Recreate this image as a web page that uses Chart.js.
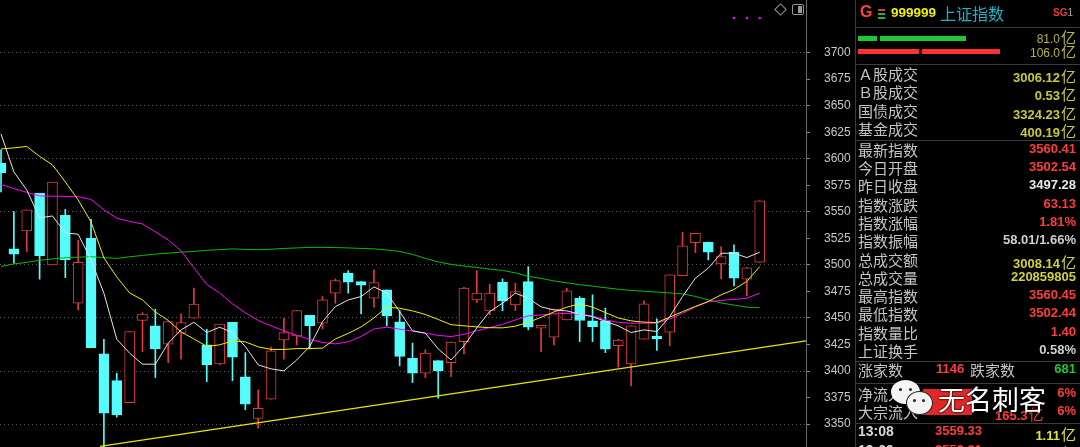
<!DOCTYPE html>
<html>
<head>
<meta charset="utf-8">
<script src="https://cdn.jsdelivr.net/npm/chart.js@4.4.1/dist/chart.umd.min.js"></script>
<style>
html, body { margin: 0; padding: 0; background: #000; width: 1080px; height: 447px; overflow: hidden; font-family: "Noto Sans CJK SC", "DejaVu Sans", sans-serif; }
#wrap { position: absolute; left: 0; top: 0; width: 855px; height: 447px; }
#panel { position: absolute; left: 855px; top: 0; width: 224px; height: 447px; border-left: 1px solid #3c3c3c; overflow: hidden; }
.hl { position: absolute; left: 0; width: 224px; height: 1px; background: #3c3c3c; }
.row { position: absolute; left: 0; width: 220px; height: 18px; line-height: 18px; white-space: nowrap; }
.lb { position: absolute; left: 2px; top: 0; color: #c4c4c4; font-size: 15px; }
.vl { position: absolute; right: 0; top: 0; font: bold 13px "Liberation Sans", Arial, sans-serif; }
.yi { font: 15px "Noto Sans CJK SC", sans-serif; margin-left: 1px; }
.abs { position: absolute; }
.icon { position: absolute; }
</style>
</head>
<body>
<div id="wrap"><canvas id="c" width="855" height="447"></canvas></div>

<!-- small icons over the chart, top right -->
<div class="icon" style="left:776px;top:5px;width:7px;height:7px;border:1px solid #9a9a9a;transform:rotate(45deg)"></div>
<div class="icon" style="left:792px;top:4px;width:10px;height:9px;border:1px solid #9a9a9a;border-radius:2px">
  <div style="position:absolute;right:1px;top:1px;width:4px;height:7px;background:#9a9a9a"></div>
</div>

<div id="panel">
  <div class="abs" style="left:4px;top:3px;font:bold 16px 'Liberation Sans',Arial;color:#ff4040">G</div>
  <div class="abs" style="left:22px;top:9px;width:7px;height:2px;background:#c84040"></div>
  <div class="abs" style="left:22px;top:13px;width:7px;height:2px;background:#30b030"></div>
  <div class="abs" style="left:22px;top:17px;width:7px;height:2px;background:#30b030"></div>
  <div class="abs" style="left:35px;top:5px;font:bold 13.5px 'Liberation Sans',Arial;color:#f0f000">999999</div>
  <div class="abs" style="left:84px;top:1px;font-size:16px;color:#1ab4c8">上证指数</div>
  <div class="abs" style="left:197px;top:7px;font:bold 10px 'Liberation Sans',Arial;color:#e83c3c">SG<span style="color:#a0a0a0;font-weight:normal">1</span></div>

  <div class="hl" style="top:27px"></div>
  <div class="abs" style="left:2px;top:36px;width:19px;height:5px;background:#1ec832"></div>
  <div class="abs" style="left:24px;top:36px;width:86px;height:5px;background:#1ec832"></div>
  <div class="abs" style="left:2px;top:49px;width:61px;height:5px;background:#ff3030"></div>
  <div class="abs" style="left:66px;top:49px;width:78px;height:5px;background:#ff3030"></div>
  <div class="row" style="top:26px"><span class="vl" style="font-weight:normal;font-size:12px;color:#b4b43c">81.0<span class="yi">亿</span></span></div>
  <div class="row" style="top:40px"><span class="vl" style="font-weight:normal;font-size:12px;color:#b4b43c">106.0<span class="yi">亿</span></span></div>
  <div class="hl" style="top:64px"></div>
  <div class="hl" style="top:140px"></div>
  <div class="hl" style="top:361px"></div>
  <div class="hl" style="top:383px"></div>
  <div class="hl" style="top:423px"></div>
  <div id="rows"></div>
</div>

<script>
// candles, oldest first
const opens  = [3596.0, 3515.1, 3532.0, 3567.5, 3500.0, 3546.8, 3463.9, 3525.1, 3416.2, 3391.0,
                3370.3, 3447.6, 3442.6, 3425.3, 3435.7, 3449.8, 3424.7, 3406.8, 3446.0, 3394.5,
                3355.3, 3373.5, 3429.4, 3433.1, 3452.6, 3445.1, 3473.4, 3492.2, 3484.3, 3468.6,
                3476.5, 3446.3, 3412.1, 3398.0, 3409.9, 3408.0, 3427.8, 3467.0, 3456.7, 3483.7,
                3462.3, 3484.3, 3440.4, 3431.9, 3448.2, 3468.6, 3447.3, 3447.3, 3424.0, 3406.8,
                3430.0, 3432.9, 3436.6, 3489.9, 3521.0, 3521.4, 3500.9, 3511.8, 3486.5, 3502.54];
const highs  = [3608.3, 3550.2, 3551.8, 3567.5, 3577.9, 3552.4, 3523.5, 3543.0, 3430.0, 3398.0,
                3437.2, 3455.1, 3458.3, 3446.6, 3453.9, 3478.1, 3439.4, 3444.2, 3446.0, 3417.4,
                3382.3, 3422.5, 3449.8, 3457.0, 3452.6, 3470.2, 3486.8, 3494.6, 3484.3, 3495.3,
                3476.5, 3457.0, 3426.3, 3420.0, 3409.9, 3427.2, 3479.0, 3494.6, 3481.8, 3486.8,
                3482.8, 3498.4, 3443.2, 3458.3, 3478.1, 3470.2, 3471.8, 3459.2, 3430.0, 3442.6,
                3466.1, 3449.2, 3490.6, 3530.8, 3529.8, 3521.4, 3517.2, 3518.8, 3497.8, 3560.45];
const lows   = [3568.7, 3501.6, 3512.5, 3486.5, 3500.0, 3488.0, 3457.6, 3422.1, 3328.9, 3356.6,
                3370.3, 3418.4, 3393.9, 3408.0, 3411.2, 3449.8, 3390.1, 3406.0, 3391.0, 3363.5,
                3346.2, 3373.5, 3411.2, 3424.7, 3420.9, 3439.7, 3463.9, 3473.4, 3453.9, 3460.2,
                3442.6, 3404.9, 3389.2, 3393.9, 3374.5, 3394.8, 3416.2, 3464.5, 3452.9, 3456.7,
                3457.0, 3438.8, 3418.4, 3424.7, 3448.2, 3427.8, 3427.8, 3417.4, 3403.7, 3386.1,
                3430.0, 3419.4, 3423.7, 3489.9, 3511.6, 3504.7, 3486.8, 3480.2, 3470.8, 3502.44];
const closes = [3586.6, 3510.1, 3551.8, 3508.8, 3577.9, 3504.7, 3502.5, 3422.1, 3360.4, 3358.8,
                3437.2, 3453.6, 3420.9, 3446.6, 3445.7, 3463.0, 3405.8, 3444.2, 3413.1, 3368.8,
                3365.0, 3419.0, 3436.3, 3457.0, 3442.8, 3467.0, 3485.2, 3483.7, 3480.9, 3483.3,
                3452.0, 3413.7, 3398.0, 3416.9, 3400.5, 3427.2, 3478.1, 3473.4, 3473.4, 3466.1,
                3474.9, 3441.3, 3443.2, 3458.3, 3475.5, 3447.6, 3441.9, 3420.6, 3429.1, 3442.6,
                3463.3, 3430.3, 3490.6, 3517.9, 3529.8, 3512.0, 3507.8, 3487.5, 3497.28, 3560.41];

// moving averages
const ma5  = [3623.4, 3587.6, 3570.6, 3544.3, 3546.1, 3530.1, 3528.9, 3504.7, 3473.4, 3430.0,
              3416.9, 3406.5, 3406.5, 3426.3, 3438.8, 3446.0, 3436.3, 3441.3, 3436.3, 3423.1,
              3405.8, 3402.1, 3400.2, 3410.5, 3423.1, 3446.6, 3460.7, 3467.0, 3470.2, 3479.3,
              3473.6, 3456.0, 3437.9, 3435.7, 3420.9, 3410.5, 3423.7, 3440.7, 3456.0, 3463.9,
              3473.4, 3468.6, 3460.5, 3457.6, 3456.7, 3453.6, 3451.3, 3446.8, 3442.6, 3436.3,
              3438.8, 3437.2, 3451.3, 3470.2, 3487.5, 3496.9, 3511.0, 3511.0, 3506.9, 3512.0];
const ma10 = [3609.2, 3610.2, 3611.6, 3602.2, 3594.2, 3578.2, 3561.2, 3540.5, 3506.6, 3488.7,
              3473.6, 3467.0, 3455.7, 3447.7, 3436.9, 3430.3, 3423.3, 3424.7, 3428.4, 3427.5,
              3422.8, 3420.4, 3420.4, 3421.2, 3421.2, 3421.6, 3430.3, 3435.5, 3441.6, 3450.1,
              3460.2, 3459.2, 3456.7, 3453.3, 3448.6, 3443.7, 3442.6, 3441.6, 3440.9, 3440.7,
              3442.3, 3445.9, 3450.6, 3455.7, 3460.2, 3463.3, 3460.3, 3455.1, 3450.0, 3447.3,
              3446.1, 3445.7, 3450.8, 3456.0, 3460.9, 3465.6, 3471.8, 3476.9, 3484.5, 3498.4];
const ma20 = [3575.8, 3572.0, 3568.3, 3565.0, 3564.7, 3564.5, 3564.3, 3561.7, 3551.8, 3544.0,
              3541.0, 3538.6, 3531.1, 3523.5, 3513.2, 3497.2, 3481.6, 3473.6, 3463.3, 3454.8,
              3447.7, 3442.6, 3437.9, 3433.6, 3429.9, 3427.0, 3425.6, 3427.5, 3432.7, 3439.7,
              3441.3, 3439.5, 3437.7, 3435.7, 3433.6, 3432.5, 3434.6, 3437.9, 3441.0, 3444.0,
              3448.2, 3452.0, 3452.9, 3453.9, 3454.3, 3453.6, 3451.8, 3448.2, 3445.9, 3445.1,
              3445.1, 3445.1, 3449.2, 3454.5, 3460.5, 3465.2, 3466.6, 3467.5, 3468.6, 3473.4];
const ma60 = [3498.6, 3500.9, 3502.4, 3504.4, 3505.6, 3506.8, 3507.3, 3507.7, 3506.9, 3506.1,
              3507.7, 3508.9, 3510.2, 3511.1, 3512.0, 3512.7, 3513.7, 3514.4, 3515.1, 3514.6,
              3514.3, 3514.8, 3515.5, 3516.0, 3516.5, 3516.5, 3516.3, 3516.0, 3515.5, 3515.1,
              3514.1, 3512.7, 3509.9, 3506.1, 3502.8, 3500.5, 3498.9, 3497.6, 3496.0, 3494.8,
              3492.5, 3489.2, 3487.3, 3484.9, 3483.1, 3481.4, 3480.0, 3478.5, 3477.1, 3476.0,
              3475.2, 3474.4, 3473.6, 3472.7, 3470.3, 3467.0, 3464.2, 3462.1, 3460.2, 3459.8];

// support trend line (two anchor points) and the marker dots over the last bars
const trendX = [7.7, 62.6];
const trendY = [3329.1, 3428.4];
const markIdx = [57, 58, 59];
const markLevel = 3732.5;

const RED = '#e23a3a';
const CYAN = '#54fcfc';
const up = closes.map((c, i) => c >= opens[i]);
const idx = opens.map((_, i) => i);
const pts = arr => arr.map((v, i) => ({ x: i, y: v }));

new Chart(document.getElementById('c'), {
    type: 'bar',
    data: {
        datasets: [
            { type: 'line', data: pts(ma5), borderColor: '#e6e6e6', borderWidth: 1, pointRadius: 0, order: 1 },
            { type: 'line', data: pts(ma10), borderColor: '#f0f000', borderWidth: 1, pointRadius: 0, order: 1 },
            { type: 'line', data: pts(ma20), borderColor: '#ff00ff', borderWidth: 1, pointRadius: 0, order: 1 },
            { type: 'line', data: pts(ma60), borderColor: '#00c000', borderWidth: 1, pointRadius: 0, order: 1 },
            { type: 'line', data: trendX.map((x, i) => ({ x: x, y: trendY[i] })), borderColor: '#e6e600', borderWidth: 1.3, pointRadius: 0, order: 1 },
            { type: 'scatter', data: markIdx.map(i => ({ x: i, y: markLevel })), pointRadius: 1.3, backgroundColor: '#ff00ff', borderWidth: 0, order: 1 },
            {
                data: idx.map(i => ({ x: i, y: [opens[i], closes[i]] })),
                backgroundColor: up.map(u => u ? '#000' : CYAN),
                borderColor: up.map(u => u ? RED : CYAN),
                borderWidth: 1, borderSkipped: false, barThickness: 10, grouped: false, order: 2
            },
            {
                data: idx.map(i => ({ x: i, y: [lows[i], highs[i]] })),
                backgroundColor: up.map(u => u ? RED : CYAN),
                barThickness: 1, grouped: false, order: 3
            }
        ]
    },
    options: {
        responsive: false, animation: false,
        layout: { padding: 0, autoPadding: false },
        plugins: { legend: { display: false }, tooltip: { enabled: false } },
        scales: {
            x: { type: 'linear', display: false, min: -0.08, max: 62.6, offset: false },
            y: {
                position: 'right', min: 3328.5, max: 3749.5,
                afterFit: s => { s.width = 49; s.paddingTop = 0; s.paddingBottom = 0; },
                afterBuildTicks: s => { s.ticks = s.ticks.filter(t => t.value >= 3350 && t.value <= 3700); },
                ticks: {
                    stepSize: 25, includeBounds: false, color: '#c8c8c8', padding: 14,
                    font: { family: '"Liberation Sans", Arial, sans-serif', size: 12 },
                    callback: v => String(v)
                },
                grid: {
                    color: c => (c.tick && c.tick.value % 50 === 0) ? '#5c5c5c' : 'rgba(0,0,0,0)',
                    tickColor: '#8a8a8a', tickLength: 4, lineWidth: 1
                },
                border: { display: true, color: '#6a6a6a', dash: [1, 3] }
            }
        }
    }
});

// side panel
const topRows = [
    ['Ａ股成交', '3006.12', true, '#c8c83c'],
    ['Ｂ股成交', '0.53', true, '#c8c83c'],
    ['国债成交', '3324.23', true, '#c8c83c'],
    ['基金成交', '400.19', true, '#c8c83c'],
];
const infoRows = [
    ['最新指数', '3560.41', false, '#ff3c3c'],
    ['今日开盘', '3502.54', false, '#ff3c3c'],
    ['昨日收盘', '3497.28', false, '#e8e8e8'],
    ['指数涨跌', '63.13', false, '#ff3c3c'],
    ['指数涨幅', '1.81%', false, '#ff3c3c'],
    ['指数振幅', '58.01/1.66%', false, '#cfcfcf'],
    ['总成交额', '3008.14', true, '#d2d23c'],
    ['总成交量', '220859805', false, '#d2d23c'],
    ['最高指数', '3560.45', false, '#ff3c3c'],
    ['最低指数', '3502.44', false, '#ff3c3c'],
    ['指数量比', '1.40', false, '#ff3c3c'],
    ['上证换手', '0.58%', false, '#cfcfcf'],
];
const rowsEl = document.getElementById('rows');
function addRow(r, cy) {
    rowsEl.innerHTML += `<div class="row" style="top:${Math.round(cy - 10)}px">
    <span class="lb">${r[0]}</span>
    <span class="vl" style="color:${r[3]}">${r[1]}${r[2] ? '<span class="yi">亿</span>' : ''}</span></div>`;
}
topRows.forEach((r, i) => addRow(r, 75 + i * 18.3));
infoRows.forEach((r, i) => addRow(r, 150.7 + i * 18.3));

rowsEl.innerHTML += `
<div class="row" style="top:361px">
  <span class="lb">涨家数</span>
  <span class="abs" style="left:80px;font:bold 13px 'Liberation Sans',Arial;color:#ff3c3c">1146</span>
  <span class="abs" style="left:114px;color:#c4c4c4;font-size:15px">跌家数</span>
  <span class="vl" style="color:#1ec832">681</span></div>
<div class="row" style="top:385px"><span class="lb">净流入</span><span class="vl" style="color:#ff3c3c">6%</span></div>
<div class="row" style="top:403px"><span class="lb">大宗流入</span>
  <span class="abs" style="left:139px;font:bold 13px 'Liberation Sans',Arial;color:#ff3c3c">165.3<span class="yi">亿</span></span>
  <span class="vl" style="color:#ff3c3c">6%</span></div>
<div class="abs" style="left:67px;top:389px;width:49px;height:26px;background:#e02828"></div>
<div class="abs" style="left:35px;top:380px;width:29px;height:24px;border-radius:50%;background:#f4f4f4"></div>
<div class="abs" style="left:43px;top:388px;width:3px;height:3px;border-radius:50%;background:#222"></div>
<div class="abs" style="left:53px;top:388px;width:3px;height:3px;border-radius:50%;background:#222"></div>
<div class="abs" style="left:50px;top:391px;width:25px;height:22px;border-radius:50%;background:#f4f4f4;border:1px solid #222"></div>
<div class="abs" style="left:57px;top:399px;width:3px;height:3px;border-radius:50%;background:#222"></div>
<div class="abs" style="left:66px;top:399px;width:3px;height:3px;border-radius:50%;background:#222"></div>
<div class="abs" style="left:82px;top:383px;font-size:27px;line-height:32px;color:#fff;text-shadow:0 0 2px #000,0 0 2px #000">无名刺客</div>
<div class="row" style="top:423px">
  <span class="abs" style="left:2px;font:bold 14px 'Liberation Sans',Arial;color:#d8d8d8">13:08</span>
  <span class="abs" style="left:79px;font:bold 13px 'Liberation Sans',Arial;color:#ff3c3c">3559.33</span>
  <span class="vl" style="color:#e0e03c">1.11<span class="yi">亿</span></span></div>
<div class="row" style="top:442px">
  <span class="abs" style="left:2px;font:bold 14px 'Liberation Sans',Arial;color:#d8d8d8">13:09</span>
  <span class="abs" style="left:79px;font:bold 13px 'Liberation Sans',Arial;color:#ff3c3c">3559.31</span>
  <span class="vl" style="color:#e0e03c">1.01<span class="yi">亿</span></span></div>`;
</script>
</body>
</html>
